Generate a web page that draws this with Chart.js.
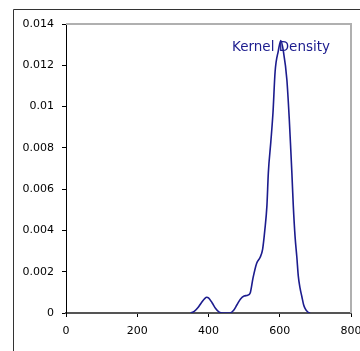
<!DOCTYPE html>
<html><head><meta charset="utf-8">
<script src="https://cdn.jsdelivr.net/npm/chart.js@4/dist/chart.umd.min.js"></script>
<style>html,body{margin:0;padding:0;background:#fff;overflow:hidden}#wrap{width:360px;height:351px;position:relative}</style>
</head><body><div id="wrap"><canvas id="c" width="360" height="351"></canvas></div>
<script>
const seriesLabel = 'Kernel Density';
const xValues = [350,360,370,380,390,395,400,410,420,430,440,460,470,480,490,500,510,517,525,535,545,552,558,564,568,575,581,587,596,603,610,620,627,631,634,638,643,648,652,657,662,667,671,678,685];
const densityValues = [0,0.00008,0.00025,0.0005,0.00071,0.00076,0.00073,0.0005,0.00022,0.00004,0,0,0.00012,0.0004,0.00068,0.00082,0.00086,0.00097,0.0017,0.0024,0.0027,0.0031,0.004,0.0052,0.0068,0.0083,0.0097,0.0117,0.0127,0.0132,0.0127,0.0113,0.0093,0.0079,0.0068,0.0052,0.0037,0.0027,0.0018,0.0012,0.0008,0.0004,0.00022,0.00006,0];
const xTicks = [0,200,400,600,800];
const xTickLabels = ['0','200','400','600','800'];
const yTicks = [0,0.002,0.004,0.006,0.008,0.01,0.012,0.014];
const yTickLabels = ['0','0.002','0.004','0.006','0.008','0.01','0.012','0.014'];

const points = xValues.map((x,i)=>({x:x,y:densityValues[i]}));
const navy = '#1c1c8e';
const tickFont = {family:'"DejaVu Sans", sans-serif', size:11};

const decor = {
  id:'decor',
  beforeDatasetsDraw(chart){
    const {ctx, chartArea:a} = chart;
    ctx.save();
    ctx.strokeStyle = '#b0b0b0';
    ctx.lineWidth = 2;
    ctx.beginPath();
    ctx.moveTo(a.left, a.top);
    ctx.lineTo(a.right, a.top);
    ctx.lineTo(a.right, a.bottom);
    ctx.stroke();
    ctx.restore();
  },
  afterDraw(chart){
    const {ctx} = chart;
    ctx.save();
    ctx.strokeStyle = '#333';
    ctx.lineWidth = 1;
    ctx.beginPath();
    ctx.moveTo(13.5, 400);
    ctx.lineTo(13.5, 9.5);
    ctx.lineTo(400, 9.5);
    ctx.stroke();
    const xs = chart.scales.x, ys = chart.scales.y;
    ctx.font = '13.5px "DejaVu Sans", sans-serif';
    ctx.fillStyle = navy;
    ctx.textAlign = 'left';
    ctx.textBaseline = 'alphabetic';
    ctx.fillText(seriesLabel, xs.getPixelForValue(466), ys.getPixelForValue(0.01268));
    ctx.restore();
  }
};

new Chart(document.getElementById('c'), {
  type:'line',
  data:{datasets:[{label:seriesLabel,data:points,borderColor:navy,borderWidth:1.6,pointRadius:0,fill:false,cubicInterpolationMode:'monotone'}]},
  options:{
    responsive:false,animation:false,
    layout:{padding:{left:0,top:24,right:9,bottom:0}},
    plugins:{legend:{display:false},tooltip:{enabled:false}},
    scales:{
      x:{type:'linear',min:0,max:800,
        afterBuildTicks(s){s.ticks = xTicks.map(v=>({value:v}));},
        afterFit(s){s.height = 38; s.paddingLeft = 0; s.paddingRight = 0;},
        ticks:{font:tickFont,color:'#000',padding:8,maxRotation:0,autoSkip:false,
          callback:(v)=>xTickLabels[xTicks.indexOf(v)]},
        grid:{drawOnChartArea:false,drawTicks:true,tickLength:4,tickColor:'#000'},
        border:{display:true,color:'#555',width:2}
      },
      y:{type:'linear',min:0,max:0.014,
        afterBuildTicks(s){s.ticks = yTicks.map(v=>({value:v}));},
        afterFit(s){s.width = 66; s.paddingTop = 0; s.paddingBottom = 0;},
        ticks:{font:tickFont,color:'#000',padding:8,autoSkip:false,
          callback:(v)=>{const i = yTicks.findIndex(t=>Math.abs(t-v)<1e-9); return i>=0?yTickLabels[i]:'';}},
        grid:{drawOnChartArea:false,drawTicks:true,tickLength:4,tickColor:'#000'},
        border:{display:true,color:'#000',width:1}
      }
    }
  },
  plugins:[decor]
});
</script></body></html>
